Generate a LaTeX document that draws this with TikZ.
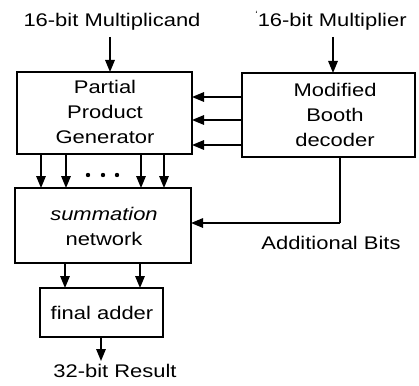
\documentclass[tikz,border=0pt]{standalone}
\usepackage{fontspec}
\setmainfont[FakeStretch=1.2]{Liberation Sans}
\usetikzlibrary{arrows.meta}
\begin{document}
\begin{tikzpicture}[x=1pt,y=-1pt,
  blk/.style={draw,line width=1.5pt},
  lbl/.style={font=\fontsize{18.3}{25}\selectfont,align=center,inner sep=0pt},
  arr/.style={line width=1.5pt,-{Triangle[length=12pt,width=9.5pt]}},
  ln/.style={line width=1.5pt}]
\useasboundingbox (0,0) rectangle (419,385);
% boxes
\draw[blk] (17,72) rectangle (192,154);
\draw[blk] (242,73) rectangle (415,157);
\draw[blk] (15,188) rectangle (191,263);
\draw[blk] (40,288) rectangle (163,337);
\node[lbl] (ppg) at (105,112) {Partial\\Product\\Generator};
\node[lbl] (booth) at (335,115) {Modified\\Booth\\decoder};
\node[lbl] (sum) at (104,226) {\itshape summation\\network};
\node[lbl,anchor=base] (fa) at (102,319) {final adder};
% coordinates
\coordinate (ppgT) at (110,72);
\coordinate (boothT) at (333,73);
% input labels
\node[lbl,anchor=base] (mcand) at (112,27) {16-bit Multiplicand};
\node[lbl,anchor=base] (mplier) at (331,27) {\raisebox{9pt}{\fontsize{9}{9}\selectfont`}16-bit Multiplier};
\draw[arr] (110,37) -- (ppgT);
\draw[arr] (333,37) -- (boothT);
% booth to ppg
\foreach \y in {97,120,145} \draw[arr] (242,\y) -- (192,\y);
% ppg to summation
\foreach \x in {41,66,141,164} \draw[arr] (\x,154) -- (\x,188);
\foreach \x in {88,103,117} \fill (\x,175) circle (2.2pt);
% additional bits
\coordinate (bend) at (340,223);
\draw[ln] (340,157) -- (bend);
\draw[arr] (bend) -- (191,223);
\node[lbl,anchor=base] (add) at (331,249) {Additional Bits};
% summation to final adder
\foreach \x in {65,140} \draw[arr] (\x,263) -- (\x,288);
% result
\draw[arr] (101,337) -- (101,361);
\node[lbl,anchor=base] (res) at (115,377) {32-bit Result};
\end{tikzpicture}
\end{document}
